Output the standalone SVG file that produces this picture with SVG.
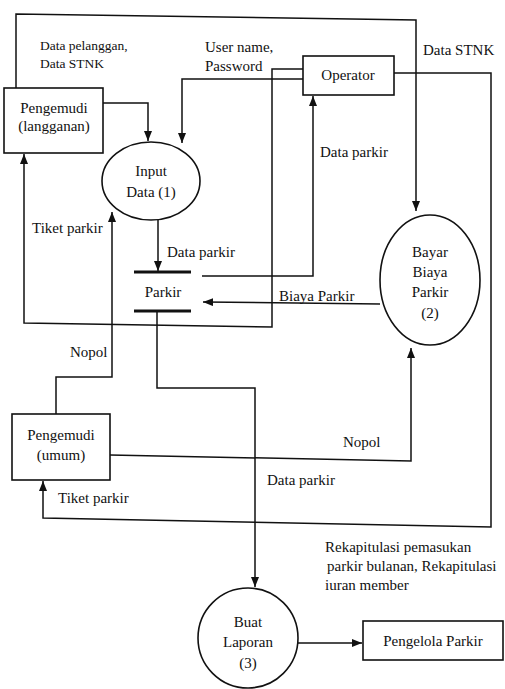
<svg xmlns="http://www.w3.org/2000/svg" width="505" height="689" viewBox="0 0 505 689">
<style>
  .bg { fill: #ffffff; }
  .box { fill: #ffffff; stroke: #111; stroke-width: 1.6; }
  .store { stroke: #111; stroke-width: 3; }
  .flow { fill: none; stroke: #111; stroke-width: 1.5; }
  text { font-family: "Liberation Serif", "Times New Roman", serif; font-size: 15px; fill: #111; }
  .c { text-anchor: middle; }
  .sm { font-size: 13.5px; }
</style>
<defs>
  <marker id="arrow" viewBox="0 0 10 8" refX="10" refY="4" markerWidth="10" markerHeight="8" orient="auto" markerUnits="userSpaceOnUse">
    <path d="M0,0 L10,4 L0,8 Z" fill="#111"/>
  </marker>
</defs>
<rect class="bg" x="0" y="0" width="505" height="689"/>

<g id="connectors">
  <path class="flow" d="M16,88 V14 L416,20 V211" marker-end="url(#arrow)"/>
  <path class="flow" d="M103,103 H148 V141" marker-end="url(#arrow)"/>
  <path class="flow" d="M303,79 H182 V143" marker-end="url(#arrow)"/>
  <path class="flow" d="M303,69 H272 V327 L24,323 V154" marker-end="url(#arrow)"/>
  <path class="flow" d="M158,220 V271" marker-end="url(#arrow)"/>
  <path class="flow" d="M202,276 H313 V96" marker-end="url(#arrow)"/>
  <path class="flow" d="M380,304 L203,302" marker-end="url(#arrow)"/>
  <path class="flow" d="M56,414 V377 H112 V212" marker-end="url(#arrow)"/>
  <path class="flow" d="M110,455 L411,461 V348" marker-end="url(#arrow)"/>
  <path class="flow" d="M394,73 H491 V527 L43,518 V481" marker-end="url(#arrow)"/>
  <path class="flow" d="M157,311 V388 H255 V587" marker-end="url(#arrow)"/>
  <path class="flow" d="M298,643 H362" marker-end="url(#arrow)"/>

  <text class="sm" x="40" y="50">Data pelanggan,</text>
  <text class="sm" x="40" y="68">Data STNK</text>
  <text x="205" y="52">User name,</text>
  <text x="205" y="71">Password</text>
  <text x="423" y="55">Data STNK</text>
  <text x="320" y="157">Data parkir</text>
  <text x="32" y="233">Tiket parkir</text>
  <text x="167" y="257">Data parkir</text>
  <text x="279" y="301">Biaya Parkir</text>
  <text x="70" y="357">Nopol</text>
  <text x="343" y="447">Nopol</text>
  <text x="267" y="485">Data parkir</text>
  <text x="58" y="503">Tiket parkir</text>
  <text x="325" y="552">Rekapitulasi pemasukan</text>
  <text x="327" y="571">parkir bulanan, Rekapitulasi</text>
  <text x="325" y="590">iuran member</text>
</g>

<g id="pengemudi-langganan">
  <rect class="box" x="4" y="88" width="99" height="65"/>
  <text class="c" x="54" y="113">Pengemudi</text>
  <text class="c" x="54" y="131">(langganan)</text>
</g>

<g id="operator">
  <rect class="box" x="303" y="56" width="91" height="39"/>
  <text class="c" x="348" y="80">Operator</text>
</g>

<g id="input-data">
  <ellipse class="box" cx="151" cy="181" rx="49" ry="39"/>
  <text class="c" x="151" y="176">Input</text>
  <text class="c" x="151" y="197">Data (1)</text>
</g>

<g id="store-parkir">
  <line class="store" x1="134" y1="272" x2="191" y2="272"/>
  <line class="store" x1="134" y1="311" x2="191" y2="311"/>
  <text class="c" x="163" y="297">Parkir</text>
</g>

<g id="bayar-biaya-parkir">
  <ellipse class="box" cx="430" cy="280" rx="50" ry="65"/>
  <text class="c" x="430" y="257">Bayar</text>
  <text class="c" x="430" y="277">Biaya</text>
  <text class="c" x="430" y="297">Parkir</text>
  <text class="c" x="430" y="318">(2)</text>
</g>

<g id="pengemudi-umum">
  <rect class="box" x="12" y="414" width="98" height="66"/>
  <text class="c" x="61" y="440">Pengemudi</text>
  <text class="c" x="61" y="460">(umum)</text>
</g>

<g id="buat-laporan">
  <circle class="box" cx="248" cy="638" r="50"/>
  <text class="c" x="248" y="627">Buat</text>
  <text class="c" x="248" y="647">Laporan</text>
  <text class="c" x="248" y="668">(3)</text>
</g>

<g id="pengelola-parkir">
  <rect class="box" x="363" y="621" width="140" height="39"/>
  <text class="c" x="433" y="646">Pengelola Parkir</text>
</g>
</svg>
